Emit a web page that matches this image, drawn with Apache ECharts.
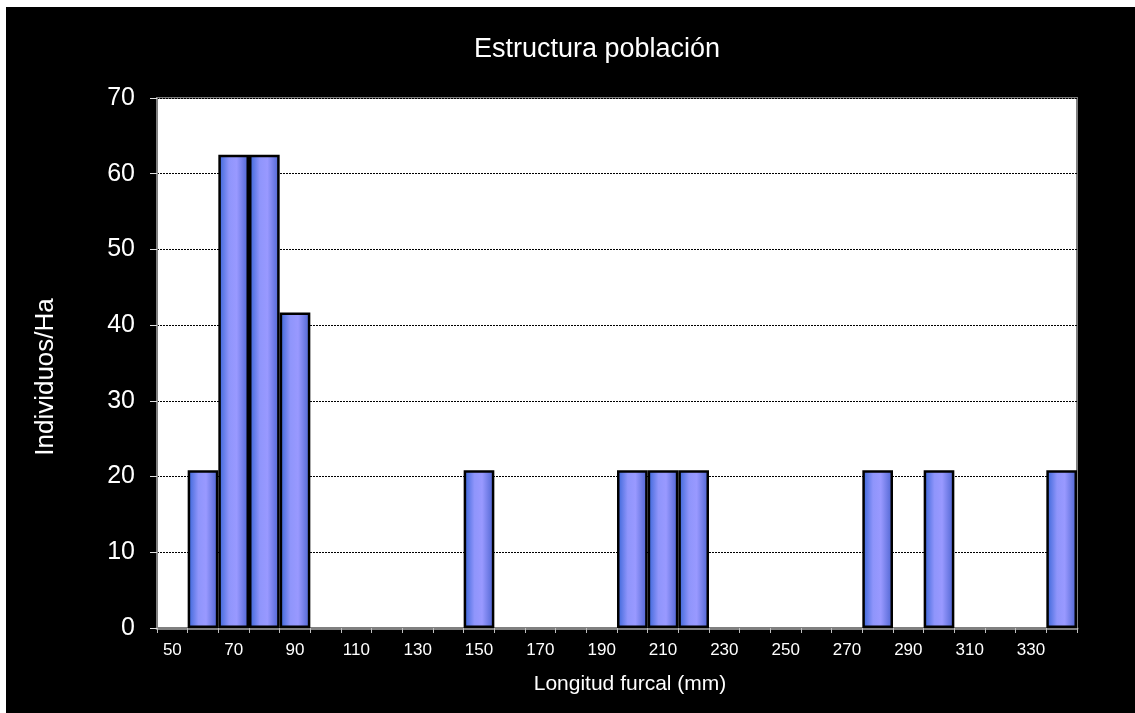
<!DOCTYPE html>
<html>
<head>
<meta charset="utf-8">
<script src="https://cdn.jsdelivr.net/npm/echarts@6/dist/echarts.min.js"></script>
<style>
html,body{margin:0;padding:0;background:#fff;}
#c{width:1135px;height:713px;}
</style>
</head>
<body>
<div id="c"></div>
<script>
const categories = ['50','60','70','80','90','100','110','120','130','140','150','160','170','180','190','200','210','220','230','240','250','260','270','280','290','300','310','320','330','340'];
const values = [null,20.83,62.5,62.5,41.67,null,null,null,null,null,20.83,null,null,null,null,20.83,20.83,20.83,null,null,null,null,null,20.83,null,20.83,null,null,null,20.83];
const yTicks = [0,10,20,30,40,50,60,70];
const titleText = 'Estructura población';
const xName = 'Longitud furcal (mm)';
const yName = 'Individuos/Ha';

const chart = echarts.init(document.getElementById('c'), null, {renderer:'canvas'});
const font = 'Liberation Sans, Arial, sans-serif';
chart.setOption({
  animation:false,
  backgroundColor:'#fff',
  graphic:[
    {type:'rect', z:-10, silent:true, shape:{x:6,y:7,width:1129,height:706}, style:{fill:'#000'}},
    {type:'text', z:10, x:597, y:50, style:{text:titleText, fill:'#fff', font:'27px '+font, align:'center', verticalAlign:'middle'}},
    {type:'text', z:10, x:630, y:684, style:{text:xName, fill:'#fff', font:'21px '+font, align:'center', verticalAlign:'middle'}},
    {type:'text', z:10, x:46, y:377, rotation:Math.PI/2, style:{text:yName, fill:'#fff', font:'26px '+font, align:'center', verticalAlign:'middle'}}
  ],
  grid:{left:157, top:98, right:58, bottom:85, show:true, backgroundColor:'#fff', borderColor:'#808080', borderWidth:2},
  xAxis:{
    type:'category', data:categories, boundaryGap:true,
    axisLine:{show:true, lineStyle:{color:'#808080', width:3}},
    axisTick:{show:true, interval:0, alignWithLabel:false, length:5, lineStyle:{color:'#c0c0c0', width:1}},
    axisLabel:{interval:1, color:'#fff', fontFamily:font, fontSize:17, margin:14},
    splitLine:{show:false}
  },
  yAxis:{
    type:'value', min:0, max:70, interval:10,
    axisLine:{show:true, lineStyle:{color:'#808080', width:2}},
    axisTick:{show:true, length:7, lineStyle:{color:'#e0e0e0', width:1}},
    axisLabel:{color:'#fff', fontFamily:font, fontSize:25, margin:22},
    splitLine:{show:true, lineStyle:{color:'#000', width:1, type:[2,1]}}
  },
  series:[{
    type:'bar', data:values, barCategoryGap:'0%',
    itemStyle:{
      borderColor:'#000', borderWidth:2.5,
      color:new echarts.graphic.LinearGradient(0,0,1,0,[
        {offset:0, color:'#3563d6'},
        {offset:0.35, color:'#8f95fb'},
        {offset:0.6, color:'#9999ff'},
        {offset:1, color:'#4a62cf'}
      ])
    }
  }]
});
</script>
</body>
</html>
